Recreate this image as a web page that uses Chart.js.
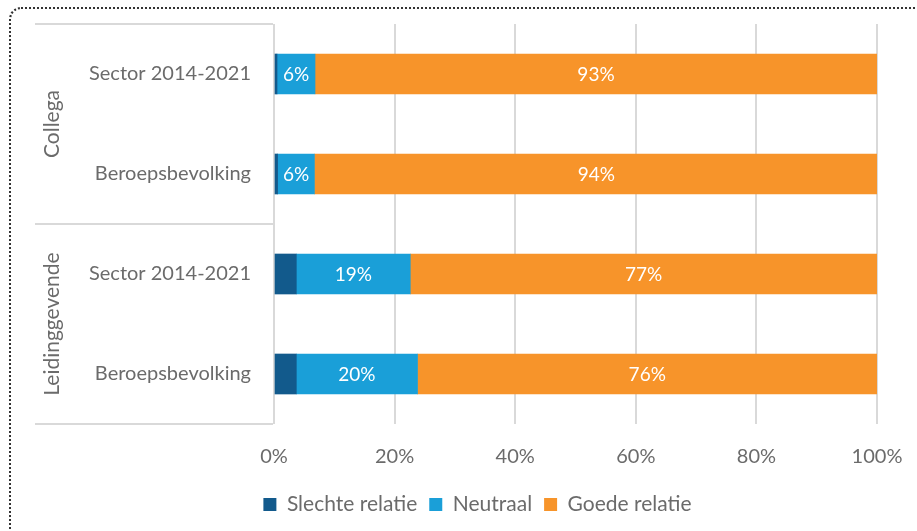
<!DOCTYPE html>
<html lang="nl">
<head>
    <meta charset="UTF-8">
    <title>Relatie met collega en leidinggevende</title>
    <script src="https://cdn.jsdelivr.net/npm/chart.js@4.4.1/dist/chart.umd.min.js"></script>
    <style>
        body { margin: 0; overflow: hidden; background: #fff; }
        #wrap { position: absolute; left: 0; top: 0; width: 917px; height: 531px; }
        #frame { position: absolute; left: 9px; top: 7px; width: 940px; height: 560px;
                 border-top: 2px dotted #333; border-left: 2px dotted #333; border-top-left-radius: 12px; }
        #graph { position: absolute; left: 0; top: 0; }
    </style>
</head>
<body>
<div id="wrap">
    <div id="frame"></div>
    <canvas id="graph" width="917" height="531"></canvas>
</div>
<script>
    // categories (top to bottom) and the group they belong to
    const categories = ['Sector 2014-2021', 'Beroepsbevolking', 'Sector 2014-2021', 'Beroepsbevolking'];
    const groups = ['Collega', 'Leidinggevende'];
    const groupSize = [2, 2];

    // percentages per answer
    const slecht   = [0.5, 0.6, 3.7, 3.7];
    const neutraal = [6.3, 6.1, 18.9, 20.1];
    const goed     = [93.2, 93.5, 77.4, 76.2];

    const xTicks = [0, 20, 40, 60, 80, 100];

    const grey = '#6b6b6b';
    const lineGrey = '#d9d9d9';
    const fam = 'Lato, "Open Sans", sans-serif';

    // white percentage labels in the neutral + good segments
    const barLabels = {
        id: 'barLabels',
        afterDatasetsDraw(chart) {
            const ctx = chart.ctx;
            ctx.save();
            ctx.fillStyle = '#fff';
            ctx.font = '19px ' + fam;
            ctx.textAlign = 'center';
            ctx.textBaseline = 'middle';
            [1, 2].forEach(di => {
                const meta = chart.getDatasetMeta(di);
                meta.data.forEach((bar, i) => {
                    const v = chart.data.datasets[di].data[i];
                    const p = bar.getProps(['x', 'y', 'base'], true);
                    ctx.fillText(Math.round(v) + '%', (p.x + p.base) / 2, p.y + 1);
                });
            });
            ctx.restore();
        }
    };

    // group boxes + rotated group names left of the category labels
    const groupAxis = {
        id: 'groupAxis',
        afterDraw(chart) {
            const ctx = chart.ctx;
            const area = chart.chartArea;
            const left = 35;
            const step = (area.bottom - area.top) / categories.length;
            ctx.save();
            ctx.strokeStyle = lineGrey;
            ctx.lineWidth = 2;
            let top = area.top;
            const edges = [top];
            groupSize.forEach(n => { top += n * step; edges.push(top); });
            edges.forEach(e => {
                ctx.beginPath();
                ctx.moveTo(left, e);
                ctx.lineTo(area.left - 1, e);
                ctx.stroke();
            });
            ctx.fillStyle = grey;
            ctx.font = '21px ' + fam;
            ctx.textAlign = 'center';
            ctx.textBaseline = 'middle';
            groups.forEach((g, i) => {
                const cy = (edges[i] + edges[i + 1]) / 2;
                ctx.save();
                ctx.translate(52, cy);
                ctx.rotate(-Math.PI / 2);
                ctx.fillText(g, 0, 0);
                ctx.restore();
            });
            ctx.restore();
        }
    };

    const ctx = document.getElementById('graph').getContext('2d');
    const myChart = new Chart(ctx, {
        type: 'bar',
        data: {
            labels: categories,
            datasets: [
                { label: 'Slechte relatie', data: slecht, backgroundColor: '#125a8c' },
                { label: 'Neutraal', data: neutraal, backgroundColor: '#1a9fd8' },
                { label: 'Goede relatie', data: goed, backgroundColor: '#f7942a' }
            ]
        },
        options: {
            responsive: false,
            animation: false,
            indexAxis: 'y',
            layout: { padding: { left: 38, right: 0, top: 24, bottom: 6 } },
            datasets: { bar: { barThickness: 40 } },
            scales: {
                x: {
                    stacked: true,
                    min: 0,
                    max: 100,
                    afterBuildTicks(scale) { scale.ticks = xTicks.map(v => ({ value: v })); },
                    afterFit(scale) { scale.height = 58; scale.paddingLeft = 0; scale.paddingRight = 40; },
                    grid: { color: lineGrey, lineWidth: 2, drawTicks: false },
                    border: { display: false },
                    ticks: {
                        color: grey,
                        padding: 21,
                        font: { family: fam, size: 20 },
                        callback: v => v + '%'
                    }
                },
                y: {
                    stacked: true,
                    afterFit(scale) { scale.width = 236; scale.paddingTop = 0; scale.paddingBottom = 0; },
                    grid: { display: false, drawTicks: false },
                    border: { display: false },
                    ticks: {
                        color: grey,
                        padding: 23,
                        font: { family: fam, size: 20 }
                    }
                }
            },
            plugins: {
                legend: {
                    position: 'bottom',
                    labels: {
                        color: grey,
                        boxWidth: 13,
                        boxHeight: 13,
                        padding: 12,
                        font: { family: fam, size: 21 }
                    }
                },
                tooltip: { enabled: false }
            }
        },
        plugins: [barLabels, groupAxis]
    });
</script>
</body>
</html>
